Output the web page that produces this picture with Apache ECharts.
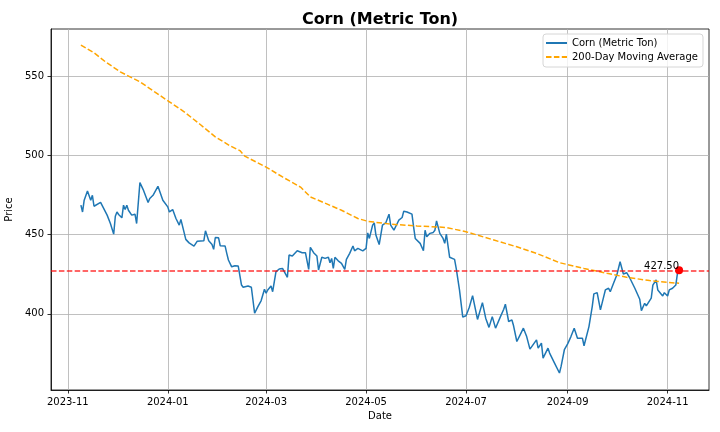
<!DOCTYPE html>
<html lang="en">
<head>
    <meta charset="UTF-8">
    <title>Corn (Metric Ton)</title>
    <script src="https://cdn.jsdelivr.net/npm/echarts/dist/echarts.min.js"></script>
    <style>
        html, body { margin: 0; padding: 0; background: #fff; }
        #main { width: 720px; height: 432px; }
    </style>
</head>
<body>
<div id="main"></div>
<script type="text/javascript">
    // price
    var priceDates = [
        '2023-11-09','2023-11-10','2023-11-11','2023-11-13','2023-11-14','2023-11-15','2023-11-16','2023-11-17','2023-11-18','2023-11-21',
        '2023-11-25','2023-11-27','2023-11-29','2023-11-30','2023-12-01','2023-12-02','2023-12-04','2023-12-05','2023-12-06','2023-12-07',
        '2023-12-08','2023-12-10','2023-12-11','2023-12-12','2023-12-13','2023-12-14','2023-12-15','2023-12-17','2023-12-20','2023-12-21',
        '2023-12-23','2023-12-26','2023-12-29','2024-01-01','2024-01-02','2024-01-04','2024-01-06','2024-01-08','2024-01-09','2024-01-10',
        '2024-01-12','2024-01-14','2024-01-17','2024-01-19','2024-01-23','2024-01-24','2024-01-25','2024-01-26','2024-01-28','2024-01-29',
        '2024-01-30','2024-02-01','2024-02-02','2024-02-05','2024-02-06','2024-02-07','2024-02-08','2024-02-09','2024-02-11','2024-02-13',
        '2024-02-15','2024-02-16','2024-02-19','2024-02-21','2024-02-23','2024-02-25','2024-02-27','2024-02-29','2024-03-01','2024-03-02',
        '2024-03-04','2024-03-05','2024-03-07','2024-03-09','2024-03-11','2024-03-12','2024-03-14','2024-03-15','2024-03-17','2024-03-20',
        '2024-03-21','2024-03-23','2024-03-25','2024-03-27','2024-03-28','2024-03-30','2024-04-01','2024-04-02','2024-04-04','2024-04-06',
        '2024-04-08','2024-04-09','2024-04-10','2024-04-11','2024-04-12','2024-04-14','2024-04-16','2024-04-18','2024-04-19','2024-04-21',
        '2024-04-23','2024-04-24','2024-04-26','2024-04-29','2024-05-01','2024-05-02','2024-05-03','2024-05-05','2024-05-06','2024-05-07',
        '2024-05-09','2024-05-11','2024-05-13','2024-05-15','2024-05-16','2024-05-18','2024-05-20','2024-05-21','2024-05-23','2024-05-24',
        '2024-05-26','2024-05-29','2024-05-30','2024-05-31','2024-06-03','2024-06-05','2024-06-06','2024-06-07','2024-06-09','2024-06-11',
        '2024-06-12','2024-06-13','2024-06-15','2024-06-17','2024-06-18','2024-06-19','2024-06-21','2024-06-24','2024-06-25','2024-06-27',
        '2024-06-29','2024-07-01','2024-07-03','2024-07-05','2024-07-08','2024-07-11','2024-07-13','2024-07-15','2024-07-17','2024-07-19',
        '2024-07-22','2024-07-24','2024-07-25','2024-07-27','2024-07-29','2024-07-30','2024-08-01','2024-08-03','2024-08-05','2024-08-07',
        '2024-08-09','2024-08-13','2024-08-14','2024-08-16','2024-08-17','2024-08-20','2024-08-21','2024-08-22','2024-08-24','2024-08-27',
        '2024-08-28','2024-08-29','2024-08-30','2024-09-01','2024-09-03','2024-09-05','2024-09-06','2024-09-07','2024-09-10','2024-09-11',
        '2024-09-12','2024-09-14','2024-09-16','2024-09-17','2024-09-19','2024-09-21','2024-09-23','2024-09-24','2024-09-25','2024-09-26',
        '2024-09-27','2024-09-29','2024-10-01','2024-10-03','2024-10-05','2024-10-07','2024-10-09','2024-10-12','2024-10-15','2024-10-16',
        '2024-10-18','2024-10-19','2024-10-22','2024-10-23','2024-10-25','2024-10-26','2024-10-29','2024-10-30','2024-11-01','2024-11-02',
        '2024-11-04','2024-11-06','2024-11-07','2024-11-08'
    ];
    var priceValues = [
        468.6, 464.3, 471.7, 477.5, 478.4, 471.7, 474.8, 467.9, 468.6, 470.3,
        462.3, 457.0, 450.3, 461.6, 464.3, 462.7, 460.6, 468.6, 465.8, 468.6,
        465.4, 462.3, 461.2, 462.9, 457.0, 457.0, 482.8, 478.4, 470.3, 472.8,
        474.8, 480.5, 471.7, 467.5, 464.3, 465.8, 460.2, 456.0, 459.6, 458.7,
        447.0, 444.8, 442.8, 445.9, 446.1, 452.4, 451.8, 446.1, 443.8, 440.7,
        448.2, 448.0, 443.0, 442.8, 438.2, 434.0, 433.5, 429.7, 430.4, 430.2,
        418.2, 416.8, 417.6, 416.8, 400.4, 404.6, 408.4, 415.5, 413.0, 415.1,
        417.6, 414.0, 426.5, 428.3, 428.7, 429.4, 423.1, 437.1, 436.5, 439.8,
        440.7, 438.6, 438.6, 428.1, 442.0, 438.6, 436.5, 427.7, 435.7, 435.0,
        435.7, 432.3, 435.0, 428.7, 435.7, 433.5, 431.9, 428.1, 434.4, 438.2,
        442.8, 439.8, 441.3, 439.8, 441.3, 451.1, 447.6, 456.0, 457.4, 449.7,
        443.7, 456.0, 457.4, 462.9, 456.0, 452.8, 457.0, 459.1, 460.8, 464.8,
        464.3, 462.9, 454.9, 447.6, 444.5, 439.8, 452.8, 448.6, 450.8, 451.4,
        452.8, 458.7, 450.8, 447.6, 444.5, 450.3, 435.7, 434.4, 428.7, 415.1,
        398.0, 398.8, 404.2, 411.5, 396.5, 407.1, 397.3, 391.5, 398.3, 391.0,
        398.3, 402.9, 406.1, 395.2, 396.2, 392.5, 382.6, 386.8, 391.0, 385.7,
        377.8, 383.6, 378.4, 381.6, 372.1, 378.4, 375.3, 376.3, 369.0, 362.7,
        366.9, 365.8, 377.4, 381.1, 385.7, 391.0, 391.0, 384.7, 384.7, 379.9,
        380.5, 392.0, 404.6, 412.6, 413.4, 402.5, 410.9, 415.1, 414.0, 416.2,
        414.0, 419.3, 424.5, 432.9, 425.2, 426.0, 422.5, 416.2, 409.2, 402.1,
        406.7, 405.0, 409.9, 418.2, 421.4, 415.1, 411.3, 413.4, 411.3, 415.1,
        416.2, 418.2, 425.6, 427.5
    ];

    // 200-day moving average
    var maDates = [
        '2023-11-09','2023-11-17','2023-11-24','2023-12-03','2023-12-15','2023-12-24','2024-01-02','2024-01-11','2024-01-21','2024-01-30',
        '2024-02-08','2024-02-14','2024-02-17','2024-03-01','2024-03-11','2024-03-22','2024-03-28','2024-04-07','2024-04-16','2024-04-26',
        '2024-05-02','2024-05-16','2024-06-01','2024-06-19','2024-07-01','2024-07-18','2024-08-01','2024-08-13','2024-08-27','2024-09-11',
        '2024-09-25','2024-10-07','2024-10-21','2024-11-08'
    ];
    var maValues = [
        569.5, 564.7, 559.0, 552.7, 546.4, 540.0, 533.8, 527.5, 519.3, 511.7,
        506.0, 503.0, 499.5, 492.6, 486.4, 480.0, 473.8, 469.4, 465.4, 460.2,
        458.4, 456.6, 455.5, 454.5, 451.8, 446.6, 442.3, 438.2, 432.3, 428.7,
        425.6, 423.1, 421.0, 419.3
    ];

    var xTickLabels = ['2023-11', '2024-01', '2024-03', '2024-05', '2024-07', '2024-09', '2024-11'];
    var yTickValues = [400, 450, 500, 550];
    var refLevel = 427.5;

    var FONT = 'DejaVu Sans';

    function toTime(s) {
        var p = s.split('-');
        return new Date(+p[0], +p[1] - 1, p[2] ? +p[2] : 1).getTime();
    }
    function pad(n) { return n < 10 ? '0' + n : '' + n; }

    var priceData = priceDates.map(function (d, i) { return [toTime(d), priceValues[i]]; });
    var maData = maDates.map(function (d, i) { return [toTime(d), maValues[i]]; });
    var last = priceData[priceData.length - 1];

    // matplotlib style 5% margins
    var t0 = priceData[0][0], t1 = last[0];
    var xMin = t0 - (t1 - t0) * 0.05, xMax = t1 + (t1 - t0) * 0.05;
    var xTicks = xTickLabels.map(toTime);

    var myChart = echarts.init(document.getElementById('main'), null, {renderer: 'canvas'});

    var option = {
        animation: false,
        backgroundColor: '#fff',
        textStyle: {fontFamily: FONT},
        title: {
            text: 'Corn (Metric Ton)',
            left: 375,
            top: 7,
            textAlign: 'center',
            textStyle: {fontFamily: FONT, fontSize: 16, fontWeight: 'bold', color: '#000'}
        },
        legend: {
            orient: 'vertical',
            left: 543,
            top: 34,
            data: ['Corn (Metric Ton)', '200-Day Moving Average'],
            itemWidth: 21,
            itemHeight: 10,
            itemGap: 2,
            padding: [3, 5, 4, 2],
            backgroundColor: 'rgba(255,255,255,0.8)',
            borderColor: '#d6d6d6',
            borderWidth: 1,
            borderRadius: 3,
            itemStyle: {opacity: 0},
            textStyle: {fontFamily: FONT, fontSize: 10, color: '#000', lineHeight: 12}
        },
        grid: {
            left: 51, top: 29, right: 11, bottom: 42,
            show: true, borderColor: '#000', borderWidth: 0.8,
            containLabel: false,
            outerBoundsMode: 'none'
        },
        xAxis: {
            type: 'value',
            min: xMin,
            max: xMax,
            scale: true,
            name: 'Date',
            nameLocation: 'middle',
            nameGap: 21,
            nameTextStyle: {fontFamily: FONT, fontSize: 10, color: '#000'},
            axisLine: {show: true, lineStyle: {color: '#000', width: 0.8}},
            axisTick: {show: true, inside: false, length: 3.5, customValues: xTicks, lineStyle: {color: '#000', width: 0.8}},
            axisLabel: {
                customValues: xTicks,
                margin: 7,
                fontFamily: FONT, fontSize: 10, color: '#000',
                formatter: function (v) {
                    var d = new Date(v);
                    return d.getFullYear() + '-' + pad(d.getMonth() + 1);
                }
            },
            splitLine: {show: true, lineStyle: {color: '#b0b0b0', width: 0.8}}
        },
        yAxis: {
            type: 'value',
            min: 352,
            max: 579.7,
            name: 'Price',
            nameLocation: 'middle',
            nameGap: 31,
            nameTextStyle: {fontFamily: FONT, fontSize: 10, color: '#000'},
            axisLine: {show: true, lineStyle: {color: '#000', width: 0.8}},
            axisTick: {show: true, inside: false, length: 3.5, customValues: yTickValues, lineStyle: {color: '#000', width: 0.8}},
            axisLabel: {customValues: yTickValues, margin: 7, fontFamily: FONT, fontSize: 10, color: '#000'},
            splitLine: {show: true, lineStyle: {color: '#b0b0b0', width: 0.8}}
        },
        series: [
            {
                name: 'Corn (Metric Ton)',
                type: 'line',
                data: priceData,
                symbol: 'none',
                showSymbol: false,
                lineStyle: {color: '#1f77b4', width: 1.5},
                itemStyle: {color: '#1f77b4'},
                z: 2
            },
            {
                name: '200-Day Moving Average',
                type: 'line',
                data: maData,
                symbol: 'none',
                showSymbol: false,
                lineStyle: {color: '#ffa500', width: 1.5, type: [5.5, 2.4]},
                itemStyle: {color: '#ffa500'},
                z: 3
            },
            {
                name: 'Last',
                type: 'scatter',
                data: [last],
                symbolSize: 8,
                itemStyle: {color: '#ff0000', opacity: 1},
                label: {
                    show: true,
                    position: [4, 5],
                    align: 'right',
                    verticalAlign: 'bottom',
                    fontFamily: FONT,
                    fontSize: 10,
                    color: '#000',
                    formatter: function (p) { return p.value[1].toFixed(2); }
                },
                markLine: {
                    silent: true,
                    symbol: ['none', 'none'],
                    label: {show: false},
                    lineStyle: {color: 'rgba(255,0,0,0.8)', width: 1.5, type: [5.5, 2.4]},
                    data: [{yAxis: refLevel}]
                },
                z: 5
            }
        ]
    };

    myChart.setOption(option);
</script>
</body>
</html>
